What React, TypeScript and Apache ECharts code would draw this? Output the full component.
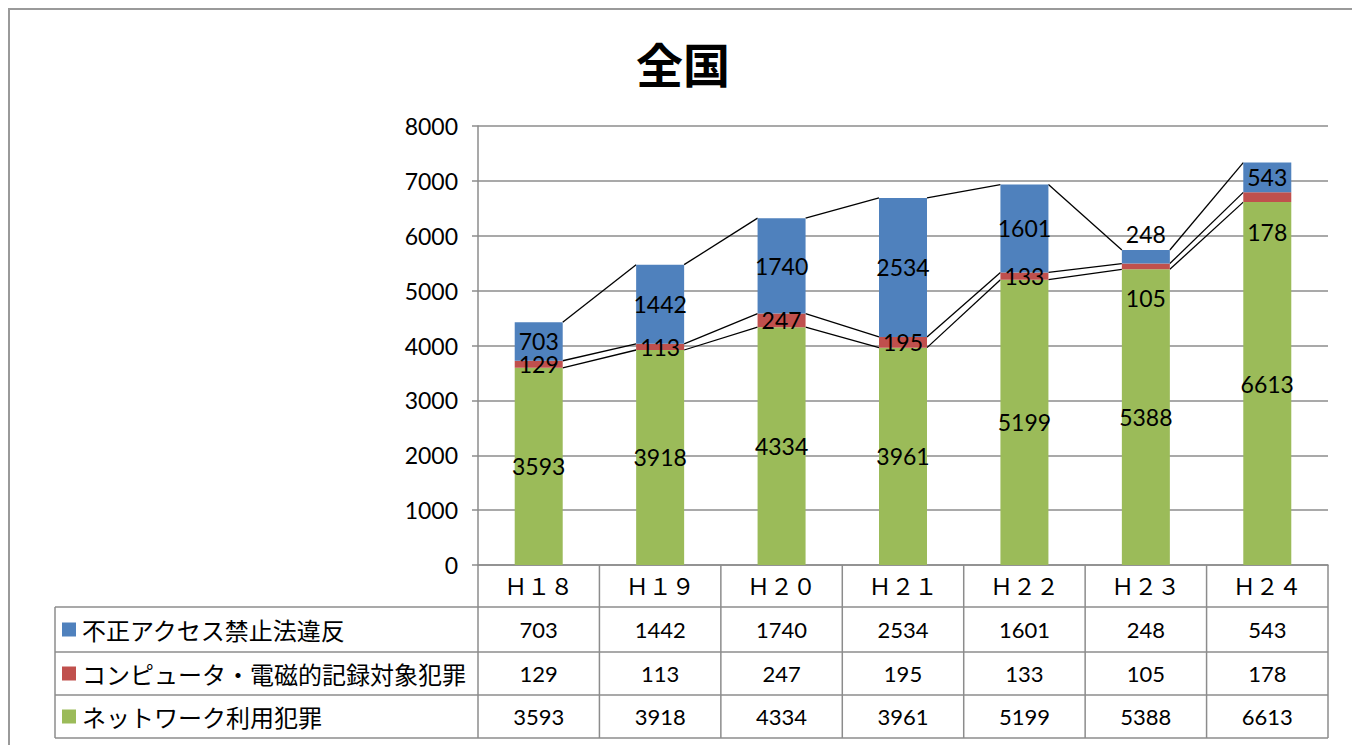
import React, { useEffect, useRef } from "react";
import * as echarts from "echarts";

const title = "全国";
const categories = ["Ｈ１８", "Ｈ１９", "Ｈ２０", "Ｈ２１", "Ｈ２２", "Ｈ２３", "Ｈ２４"];
const seriesNames = ["不正アクセス禁止法違反", "コンピュータ・電磁的記録対象犯罪", "ネットワーク利用犯罪"];
const unauthorizedAccess = [703, 1442, 1740, 2534, 1601, 248, 543];
const computerCrime = [129, 113, 247, 195, 133, 105, 178];
const networkCrime = [3593, 3918, 4334, 3961, 5199, 5388, 6613];
const yMin = 0;
const yMax = 8000;
const yInterval = 1000;

const BLUE = "#4F81BD";
const RED = "#C0504D";
const GREEN = "#9BBB59";
const GRIDC = "#8c8c8c";

// layout
const W = 1352;
const H = 745;
const gridLeft = 478;
const gridRight = 1328;
const gridTop = 126;
const gridBottomY = 565;
const barWidth = 48;
const tableLeft = 55;
const rowLines = [607, 652, 695, 738];

// manual label offsets (style only)
const labelOffsets: Record<string, [number, number]> = {
  "0-5": [0, -23],
  "1-5": [0, 32],
  "1-6": [0, 35],
};

export default function App() {
  const ref = useRef<HTMLDivElement>(null);
  useEffect(() => {
    document.body.style.margin = "0";
    const chart = echarts.init(ref.current!, null, { renderer: "svg" });

    const cumG = networkCrime.slice();
    const cumR = networkCrime.map((v, i) => v + computerCrime[i]);
    const cumB = cumR.map((v, i) => v + unauthorizedAccess[i]);
    const linkData = categories.slice(0, -1).map((_, i) => [i, cumG[i], cumR[i], cumB[i], cumG[i + 1], cumR[i + 1], cumB[i + 1]]);

    const colW = (gridRight - gridLeft) / categories.length;
    const labelFont = "Lato";

    const mkData = (arr: number[], sIdx: number) =>
      arr.map((v, i) => {
        const off = labelOffsets[`${sIdx}-${i}`];
        return off ? { value: v, label: { offset: off } } : v;
      });

    const graphics: any[] = [];
    graphics.push({
      type: "polyline",
      shape: { points: [[9, H], [9, 9], [W, 9]] },
      style: { stroke: "#9a9a9a", lineWidth: 2, fill: null },
    });
    graphics.push({
      type: "text",
      x: 683,
      y: 62,
      style: {
        text: title,
        font: "bold 47px 'Noto Sans CJK JP'",
        fill: "#000",
        textAlign: "center",
        textVerticalAlign: "middle",
      },
    });
    rowLines.forEach((y) => {
      graphics.push({
        type: "line",
        shape: { x1: tableLeft, y1: y, x2: gridRight, y2: y },
        style: { stroke: GRIDC, lineWidth: 1.5 },
      });
    });
    graphics.push({
      type: "line",
      shape: { x1: tableLeft, y1: rowLines[0], x2: tableLeft, y2: rowLines[rowLines.length - 1] },
      style: { stroke: GRIDC, lineWidth: 1.5 },
    });
    for (let k = 0; k <= categories.length; k++) {
      const x = gridLeft + k * colW;
      graphics.push({
        type: "line",
        shape: { x1: x, y1: gridBottomY, x2: x, y2: rowLines[rowLines.length - 1] },
        style: { stroke: GRIDC, lineWidth: 1.5 },
      });
    }
    const rows = [
      { name: seriesNames[0], color: BLUE, values: unauthorizedAccess },
      { name: seriesNames[1], color: RED, values: computerCrime },
      { name: seriesNames[2], color: GREEN, values: networkCrime },
    ];
    rows.forEach((r, ri) => {
      const cy = (rowLines[ri] + rowLines[ri + 1]) / 2;
      graphics.push({
        type: "rect",
        shape: { x: 62, y: cy - 7, width: 14, height: 14 },
        style: { fill: r.color },
      });
      graphics.push({
        type: "text",
        x: 82,
        y: cy,
        style: {
          text: r.name,
          font: "24px 'Noto Sans CJK JP'",
          fill: "#000",
          textAlign: "left",
          textVerticalAlign: "middle",
        },
      });
      r.values.forEach((v, ci) => {
        graphics.push({
          type: "text",
          x: gridLeft + (ci + 0.5) * colW,
          y: cy,
          style: {
            text: String(v),
            font: `22px ${labelFont}`,
            fill: "#000",
            textAlign: "center",
            textVerticalAlign: "middle",
          },
        });
      });
    });

    const barLabel = {
      show: true,
      position: "inside",
      color: "#000",
      fontSize: 23,
      fontFamily: labelFont,
    };

    chart.setOption({
      animation: false,
      grid: { left: gridLeft, right: W - gridRight, top: gridTop, bottom: H - gridBottomY, containLabel: false },
      xAxis: {
        type: "category",
        data: categories,
        axisLine: { show: true, lineStyle: { color: GRIDC, width: 1.5 } },
        axisTick: { show: false },
        axisLabel: { color: "#000", fontFamily: "Noto Sans CJK JP", fontSize: 23, margin: 8 },
      },
      yAxis: {
        type: "value",
        min: yMin,
        max: yMax,
        interval: yInterval,
        axisLine: { show: true, lineStyle: { color: GRIDC, width: 1.5 } },
        axisTick: { show: true, length: 6, lineStyle: { color: GRIDC, width: 1.5 } },
        splitLine: { show: true, lineStyle: { color: GRIDC, width: 1.5 } },
        axisLabel: {
          color: "#000",
          fontFamily: labelFont,
          fontSize: 23,
          margin: 20,
          formatter: (v: number) => String(v),
        },
      },
      series: [
        {
          name: seriesNames[2],
          type: "bar",
          stack: "total",
          barWidth,
          itemStyle: { color: GREEN },
          label: barLabel,
          data: mkData(networkCrime, 2),
        },
        {
          name: seriesNames[1],
          type: "bar",
          stack: "total",
          barWidth,
          itemStyle: { color: RED },
          label: barLabel,
          data: mkData(computerCrime, 1),
        },
        {
          name: seriesNames[0],
          type: "bar",
          stack: "total",
          barWidth,
          itemStyle: { color: BLUE },
          label: barLabel,
          data: mkData(unauthorizedAccess, 0),
        },
        {
          type: "custom",
          silent: true,
          z: 1,
          encode: { x: 0, y: 1 },
          data: linkData,
          renderItem: (params: any, api: any) => {
            const i = api.value(0);
            const children: any[] = [];
            for (let k = 0; k < 3; k++) {
              const a = api.coord([i, api.value(1 + k)]);
              const b = api.coord([i + 1, api.value(4 + k)]);
              children.push({
                type: "line",
                shape: { x1: a[0] + barWidth / 2, y1: a[1], x2: b[0] - barWidth / 2, y2: b[1] },
                style: { stroke: "#000", lineWidth: 1.3 },
              });
            }
            return { type: "group", children };
          },
        },
      ],
      graphic: graphics,
    });
    return () => chart.dispose();
  }, []);
  return <div ref={ref} style={{ width: W, height: H }} />;
}
